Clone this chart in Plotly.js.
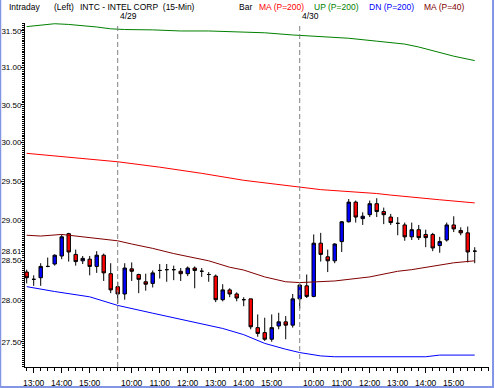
<!DOCTYPE html>
<html><head><meta charset="utf-8">
<script src="https://cdn.plot.ly/plotly-3.0.1.min.js"></script>
<style>html,body{margin:0;padding:0;background:#fff;}#chart{width:495px;height:388px;}</style>
</head><body><div id="chart"></div>
<script>
// ---- categories: 15-minute bars ----
const dayLabels = ['4/28', '4/29', '4/30'];
const dayFirstBar = ['12:45', '09:30', '09:30'];
const dayLastBar = '15:45';

// ---- OHLC (one entry per bar) ----
const openV  = [28.35,28.26,28.28,28.42,28.45,28.55,28.83,28.57,28.49,28.51,28.42,28.56,28.33,
                28.17,28.08,28.39,28.32,28.23,28.21,28.37,28.38,28.38,28.36,28.33,28.40,28.36,28.32,28.30,28.01,28.13,28.08,28.01,28.02,27.67,27.61,27.53,27.69,27.74,27.70,
                28.02,28.18,28.05,28.71,28.54,28.49,28.73,28.98,29.23,29.02,29.07,29.21,29.11,29.04,28.96,28.94,28.79,28.88,28.82,28.82,28.68,28.75,28.94,28.87,28.84,28.61];
const highV  = [28.38,28.31,28.46,28.53,28.57,28.82,28.84,28.63,28.55,28.55,28.61,28.58,28.46,
                28.23,28.46,28.47,28.33,28.33,28.37,28.45,28.45,28.43,28.40,28.42,28.42,28.40,28.35,28.32,28.20,28.15,28.10,28.04,28.02,27.83,27.79,27.83,27.85,27.81,28.08,
                28.20,28.32,28.82,28.84,28.63,28.71,28.99,29.27,29.25,29.10,29.25,29.28,29.16,29.08,29.04,28.97,28.97,28.94,28.88,28.84,28.79,28.97,29.05,28.91,28.92,28.66];
const lowV   = [28.21,28.18,28.18,28.41,28.43,28.51,28.48,28.43,28.45,28.31,28.34,28.24,28.09,
                27.96,28.01,28.24,28.09,28.12,28.16,28.27,28.23,28.25,28.24,28.30,28.15,28.29,28.23,27.98,27.99,28.04,27.99,27.93,27.65,27.56,27.51,27.50,27.65,27.53,27.67,
                27.90,28.03,28.04,28.48,28.35,28.46,28.60,28.97,28.97,28.94,29.04,29.04,28.95,28.94,28.81,28.74,28.75,28.75,28.66,28.61,28.59,28.73,28.85,28.81,28.47,28.46];
const closeV = [28.28,28.26,28.42,28.42,28.56,28.79,28.60,28.48,28.52,28.42,28.56,28.34,28.13,
                28.08,28.40,28.36,28.26,28.20,28.34,28.37,28.38,28.38,28.33,28.40,28.37,28.36,28.32,28.01,28.13,28.08,28.03,28.01,27.68,27.60,27.53,27.67,27.74,27.70,28.02,
                28.19,28.05,28.71,28.57,28.49,28.70,28.98,29.23,29.04,29.05,29.21,29.11,29.07,28.97,28.96,28.79,28.88,28.78,28.78,28.65,28.73,28.94,28.89,28.84,28.60,28.61];

// ---- indicator lines (bar index, value) ----
const ma200Idx = [0,6,13,19,25,31,39,42,50,52,59,64];
const ma200Val = [29.86,29.81,29.75,29.68,29.60,29.51,29.42,29.39,29.34,29.32,29.26,29.22];
const upIdx = [0,2,4,6,8,10,12,14,18,22,26,30,34,38,42,46,50,54,56,59,61,64];
const upVal = [31.56,31.58,31.60,31.59,31.575,31.555,31.53,31.52,31.515,31.50,31.50,31.49,31.475,31.445,31.42,31.40,31.36,31.32,31.28,31.20,31.155,31.095];
const dnIdx = [0,4,9,13,18,23,28,31,34,37,39,42,44,57,59,64];
const dnVal = [28.17,28.11,28.045,27.94,27.845,27.75,27.66,27.585,27.48,27.41,27.37,27.33,27.32,27.32,27.34,27.34];
const ma40Idx = [0,2,5,8,11,13,15,18,21,24,26,29,31,34,37,39,44,49,53,55,58,61,64];
const ma40Val = [28.81,28.80,28.82,28.79,28.765,28.74,28.70,28.645,28.58,28.53,28.49,28.41,28.375,28.29,28.23,28.22,28.24,28.29,28.36,28.38,28.425,28.465,28.49];

// ---- tick labels ----
const xTickTimes = ['4/28 13:00','4/28 14:00','4/28 15:00',
  '4/29 10:00','4/29 11:00','4/29 12:00','4/29 13:00','4/29 14:00','4/29 15:00',
  '4/30 10:00','4/30 11:00','4/30 12:00','4/30 13:00','4/30 14:00','4/30 15:00'];
const xTickText = ['13:00','14:00','15:00','10:00','11:00','12:00','13:00','14:00','15:00','10:00','11:00','12:00','13:00','14:00','15:00'];
const yTickVals = [27.5, 28.0, 28.5, 28.61, 29.0, 29.5, 30.0, 30.5, 31.0, 31.5];
const yTickText = ['27.50','28.00','28.50','28.61','29.00','29.50','30.00','30.50','31.00','31.50'];
const separators = ['4/29 09:30', '4/30 09:30'];

// build bar category list
const times = [];
function toMin(s){const p=s.split(':');return +p[0]*60 + +p[1];}
function toStr(m){const h=Math.floor(m/60), mm=m%60;return (h<10?'0':'')+h+':'+(mm<10?'0':'')+mm;}
dayLabels.forEach((d,k)=>{ for(let m=toMin(dayFirstBar[k]); m<=toMin(dayLastBar); m+=15) times.push(d+' '+toStr(m)); });
const xs = times.map((t,i)=>i);

const FONT = 'Liberation Sans, Arial, sans-serif';
const W=495,H=388,ML=25,MR=6,MT=23,MB=21;
const pw=W-ML-MR, ph=H-MT-MB;
const xp = px => (px-ML)/pw;
const yp = py => (H-MB-py)/ph;

const lineTrace = (idx, val, color) => ({type:'scatter', mode:'lines', x: idx, y: val,
  line:{color:color, width:1}, hoverinfo:'skip', showlegend:false});

const data = [
  lineTrace(upIdx, upVal, '#008000'),
  lineTrace(ma200Idx, ma200Val, '#ff0000'),
  lineTrace(dnIdx, dnVal, '#0000ff'),
  lineTrace(ma40Idx, ma40Val, '#800000'),
  {type:'candlestick', x: xs, open: openV, high: highV, low: lowV, close: closeV,
   increasing:{line:{color:'#000000', width:1}, fillcolor:'#0000ff'},
   decreasing:{line:{color:'#000000', width:1}, fillcolor:'#ff0000'},
   whiskerwidth:0, hoverinfo:'skip', showlegend:false}
];

const header = [
  {t:'Intraday', x:7, c:'#000'},
  {t:'(Left)', x:52, c:'#000'},
  {t:'INTC - INTEL CORP&nbsp;&nbsp;(15-Min)', x:78, c:'#000'},
  {t:'Bar', x:237, c:'#000'},
  {t:'MA (P=200)', x:257, c:'#ff0000'},
  {t:'UP (P=200)', x:312, c:'#008000'},
  {t:'DN (P=200)', x:367, c:'#0000ff'},
  {t:'MA (P=40)', x:422, c:'#800000'}
];
const annotations = header.map(h=>({xref:'paper', yref:'paper', x:xp(h.x), y:yp(7), xanchor:'left', yanchor:'middle',
  text:h.t, showarrow:false, font:{family:FONT, size:8.5, color:h.c}}));
separators.forEach(s=>{
  annotations.push({xref:'x', yref:'paper', x: times.indexOf(s), y: yp(16), xanchor:'left', yanchor:'middle',
    text: s.split(' ')[0], showarrow:false, font:{family:FONT, size:8.5, color:'#000'}});
});

const shapes = separators.map(s=>({type:'line', xref:'x', yref:'paper', x0: times.indexOf(s), x1: times.indexOf(s), y0:0, y1:1,
  line:{color:'#808080', width:1, dash:'5px,3px'}}));
const borderColor = '#8396e6';
shapes.push({type:'line', xref:'paper', yref:'paper', x0:xp(0.5), x1:xp(0.5), y0:yp(0), y1:yp(387), line:{color:borderColor, width:1.5}});
shapes.push({type:'line', xref:'paper', yref:'paper', x0:xp(493), x1:xp(493), y0:yp(0), y1:yp(387), line:{color:borderColor, width:2}});
shapes.push({type:'line', xref:'paper', yref:'paper', x0:xp(0), x1:xp(494), y0:yp(387), y1:yp(387), line:{color:borderColor, width:2}});

const layout = {
  width:W, height:H, margin:{l:ML, r:MR, t:MT, b:MB, pad:0},
  paper_bgcolor:'#ffffff', plot_bgcolor:'#ffffff', showlegend:false,
  font:{family:FONT, size:8.5, color:'#000'},
  xaxis:{type:'linear', range:[-0.243, 66.04], tickmode:'array',
    tickvals: xTickTimes.map(t=>times.indexOf(t)), ticktext: xTickText,
    ticks:'outside', ticklen:5, tickwidth:1, tickcolor:'#000', ticklabelstandoff:3,
    showline:true, linecolor:'#000', linewidth:1, showgrid:false, zeroline:false,
    rangeslider:{visible:false}, tickfont:{family:FONT, size:8.5, color:'#000'},
    minor:{tickmode:'linear', tick0:0, dtick:1, ticks:'outside', ticklen:3, tickcolor:'#000', showgrid:false},
    fixedrange:true},
  yaxis:{type:'log', range:[Math.log10(27.198), Math.log10(31.61)], tickmode:'array',
    tickvals:yTickVals, ticktext:yTickText, ticks:'outside', ticklen:3, tickwidth:1, tickcolor:'#000',
    ticklabelstandoff:-2,
    showline:true, linecolor:'#000', linewidth:1, showgrid:false, zeroline:false,
    tickfont:{family:FONT, size:8, color:'#000'},
    minor:{tickmode:'linear', tick0:27, dtick:'L0.025', ticks:'outside', ticklen:2, tickcolor:'#000', showgrid:false},
    fixedrange:true},
  annotations: annotations,
  shapes: shapes
};
Plotly.newPlot('chart', data, layout, {staticPlot:true, displayModeBar:false});
</script>
</body></html>
